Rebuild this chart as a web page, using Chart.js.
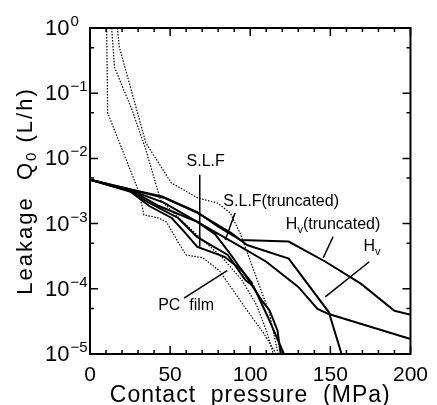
<!DOCTYPE html>
<html>
<head>
<meta charset="utf-8">
<script src="https://cdn.jsdelivr.net/npm/chart.js@4.4.1/dist/chart.umd.min.js"></script>
<style>
  html, body { margin: 0; padding: 0; background: #fff; }
</style>
</head>
<body>
<canvas id="chart" width="437" height="405"></canvas>
<script>
// Contact pressure (MPa) and leakage Q0 (L/h)
const hvTruncP = [0, 26, 45, 67, 80, 94, 124, 147, 169, 190, 200];
const hvTruncQ = [4.7e-3, 3.3e-3, 2.6e-3, 1.5e-3, 9e-4, 5.6e-4, 5.3e-4, 2.6e-4, 1.2e-4, 4.6e-5, 4.0e-5];

const hvP = [0, 26, 46, 67, 92, 110, 130, 142, 149, 200];
const hvQ = [4.7e-3, 3.2e-3, 2.1e-3, 1.06e-3, 4.7e-4, 2.6e-4, 1.07e-4, 4.9e-5, 4.1e-5, 1.7e-5];

const slfTruncP = [0, 26, 46, 67, 88, 98, 124, 149, 157];
const slfTruncQ = [4.7e-3, 3.3e-3, 2.5e-3, 1.46e-3, 7.2e-4, 4.7e-4, 2.9e-4, 4.4e-5, 1e-5];

const slfP = [0, 26, 43, 67, 78, 88, 99, 107, 112, 117, 119];
const slfQ = [4.7e-3, 3.2e-3, 1.86e-3, 1.06e-3, 6.9e-4, 3.3e-4, 1.36e-4, 6.7e-5, 4.7e-5, 2.3e-5, 1e-5];

const slf2P = [0, 26, 37, 55, 67, 86, 97, 102, 107, 111, 121];
const slf2Q = [4.7e-3, 3.05e-3, 2.07e-3, 1.22e-3, 6.2e-4, 3.3e-4, 1.36e-4, 1.1e-4, 6.0e-5, 3.7e-5, 1e-5];

const pcP = [0, 24.5, 37, 51, 59, 67, 84, 95, 101.5];
const pcQ = [4.7e-3, 3.2e-3, 1.86e-3, 1.22e-3, 7.4e-4, 4.4e-4, 3.1e-4, 1.9e-4, 1.19e-4];

// dotted curves
const dot1P = [10.4, 11, 29.4, 32.4, 33.6, 42.8, 47.7, 55, 60, 70.3, 80.7, 87.5, 97.9, 108.3, 116.2];
const dot1Q = [1, 5.0e-2, 3.6e-3, 1.93e-3, 1.36e-3, 1.22e-3, 1.06e-3, 5.2e-4, 3.3e-4, 3.0e-4, 1.9e-4, 1.1e-4, 4.7e-5, 2.1e-5, 1e-5];

const dot2P = [13.5, 15.3, 26.3, 34.9, 44, 58.1, 70.3, 82.6, 94.8, 104, 110, 114.4];
const dot2Q = [1, 0.25, 5.5e-2, 1.35e-2, 2.3e-3, 1.06e-3, 5.6e-4, 3.0e-4, 1.36e-4, 5.6e-5, 2.3e-5, 1e-5];

const dot3P = [17.1, 18.3, 34.9, 50.8, 67.3, 79.5, 87.5, 93.6, 102.8, 111.9, 117.4];
const dot3Q = [1, 0.51, 1.72e-2, 4.2e-3, 2.47e-3, 2.07e-3, 1.46e-3, 7.2e-4, 1.75e-4, 4.3e-5, 1e-5];

// leader lines [from, to] in data units
const leaders = [
  [[68.5, 5.6e-3], [68.5, 4.4e-4]],
  [[90.5, 1.46e-3], [84.4, 5.6e-4]],
  [[151.7, 6.3e-4], [145.6, 3.0e-4]],
  [[174.3, 2.6e-4], [146.8, 7.5e-5]],
  [[58.7, 7.2e-5], [85.6, 1.9e-4]]
];

// label text, sub-script part, tail, anchor (data units)
const notes = [
  ['S.L.F', '', '', 72.2, 8.8e-3],
  ['S.L.F(truncated)', '', '', 119.3, 2.2e-3],
  ['H', 'v', '(truncated)', 151.7, 9.5e-4],
  ['H', 'v', '', 176, 4.4e-4],
  ['PC  film', '', '', 60, 5.6e-5]
];

const xTicks = [0, 50, 100, 150, 200];
const yDecades = [-5, -4, -3, -2, -1, 0];

function pts(p, q) {
  return p.map((v, i) => ({ x: v, y: q[i] }));
}

const solid = (p, q) => ({ data: pts(p, q), borderColor: '#000', borderWidth: 2, pointRadius: 0, fill: false, tension: 0 });
const dotted = (p, q) => ({ data: pts(p, q), borderColor: '#000', borderWidth: 1.2, borderDash: [1.5, 1.5], pointRadius: 0, fill: false, tension: 0 });

const datasets = [
  dotted(dot1P, dot1Q),
  dotted(dot2P, dot2Q),
  dotted(dot3P, dot3Q),
  solid(hvTruncP, hvTruncQ),
  solid(hvP, hvQ),
  solid(slfTruncP, slfTruncQ),
  solid(slfP, slfQ),
  solid(slf2P, slf2Q),
  solid(pcP, pcQ)
];
leaders.forEach(l => {
  datasets.push({ data: l.map(d => ({ x: d[0], y: d[1] })), borderColor: '#000', borderWidth: 1.5, pointRadius: 0, fill: false });
});

const FONT = '"Liberation Sans", Arial, Helvetica, sans-serif';

// frame, inward ticks, y labels, titles and notes
const decor = {
  id: 'decor',
  afterDatasetsDraw(chart) {
    const { ctx, chartArea: a, scales: { x, y } } = chart;
    ctx.save();
    ctx.strokeStyle = '#000';
    ctx.fillStyle = '#000';
    ctx.lineWidth = 2;
    ctx.strokeRect(a.left, a.top, a.right - a.left, a.bottom - a.top);

    ctx.lineWidth = 1.5;
    ctx.beginPath();
    for (let v = 0; v <= 200; v += 10) {
      const px = x.getPixelForValue(v);
      const len = v % 50 === 0 ? 8 : 4;
      ctx.moveTo(px, a.bottom); ctx.lineTo(px, a.bottom - len);
      ctx.moveTo(px, a.top); ctx.lineTo(px, a.top + len);
    }
    yDecades.forEach(d => {
      const py = y.getPixelForValue(Math.pow(10, d));
      ctx.moveTo(a.left, py); ctx.lineTo(a.left + 8, py);
      ctx.moveTo(a.right, py); ctx.lineTo(a.right - 8, py);
      if (d < 0) {
        const pm = y.getPixelForValue(5 * Math.pow(10, d));
        ctx.moveTo(a.left, pm); ctx.lineTo(a.left + 4, pm);
        ctx.moveTo(a.right, pm); ctx.lineTo(a.right - 4, pm);
      }
    });
    ctx.stroke();

    // y tick labels 10^n
    ctx.textAlign = 'left';
    ctx.textBaseline = 'alphabetic';
    yDecades.forEach(d => {
      const py = y.getPixelForValue(Math.pow(10, d));
      ctx.font = '22px ' + FONT;
      ctx.fillText('10', 45, py + 7);
      const w = ctx.measureText('10').width;
      ctx.font = '15px ' + FONT;
      ctx.fillText(d < 0 ? '\u2212' + (-d) : String(d), 45 + w + 1, py - 2);
    });

    // notes
    notes.forEach(n => {
      const px = x.getPixelForValue(n[3]);
      const py = y.getPixelForValue(n[4]);
      ctx.font = '16px ' + FONT;
      const w1 = ctx.measureText(n[0]).width;
      const w3 = ctx.measureText(n[2]).width;
      ctx.font = '11px ' + FONT;
      const w2 = ctx.measureText(n[1]).width;
      let sx = px - (w1 + w2 + w3) / 2;
      ctx.textBaseline = 'middle';
      ctx.font = '16px ' + FONT;
      ctx.fillText(n[0], sx, py);
      sx += w1;
      if (n[1]) {
        ctx.font = '11px ' + FONT;
        ctx.fillText(n[1], sx, py + 5);
        sx += w2;
      }
      ctx.font = '16px ' + FONT;
      if (n[2]) ctx.fillText(n[2], sx, py);
    });

    // x title
    ctx.textBaseline = 'alphabetic';
    ctx.font = '23px ' + FONT;
    ctx.letterSpacing = '1px';
    const xt = 'Contact  pressure  (MPa)';
    const xw = ctx.measureText(xt).width;
    ctx.fillText(xt, (a.left + a.right) / 2 - xw / 2, 402);

    // y title (rotated)
    ctx.save();
    const cy = (a.top + a.bottom) / 2;
    ctx.translate(32, cy);
    ctx.rotate(-Math.PI / 2);
    ctx.letterSpacing = '2px';
    ctx.font = '22px ' + FONT;
    const p1 = 'Leakage  Q';
    const p3 = ' (L/h)';
    const w1 = ctx.measureText(p1).width;
    const w3 = ctx.measureText(p3).width;
    ctx.font = '15px ' + FONT;
    const w2 = ctx.measureText('0').width;
    let sx = -(w1 + w2 + w3) / 2;
    ctx.font = '22px ' + FONT;
    ctx.fillText(p1, sx, 0);
    sx += w1;
    ctx.font = '15px ' + FONT;
    ctx.fillText('0', sx, 4);
    sx += w2;
    ctx.font = '22px ' + FONT;
    ctx.fillText(p3, sx, 0);
    ctx.restore();

    ctx.restore();
  }
};

new Chart(document.getElementById('chart').getContext('2d'), {
  type: 'line',
  data: { datasets: datasets },
  options: {
    responsive: false,
    animation: false,
    layout: { padding: { top: 28, right: 20, left: 0, bottom: 0 } },
    plugins: { legend: { display: false }, tooltip: { enabled: false } },
    scales: {
      x: {
        type: 'linear',
        min: 0,
        max: 200,
        grid: { display: false, drawTicks: false },
        border: { display: false },
        afterBuildTicks: s => { s.ticks = xTicks.map(v => ({ value: v })); },
        afterFit: s => { s.height = 51; },
        ticks: {
          autoSkip: false,
          maxRotation: 0,
          padding: 9,
          color: '#000',
          font: { family: FONT, size: 21 }
        }
      },
      y: {
        type: 'logarithmic',
        min: 1e-5,
        max: 1,
        grid: { display: false, drawTicks: false },
        border: { display: false },
        ticks: { display: false },
        afterFit: s => { s.width = 90; }
      }
    }
  },
  plugins: [decor]
});
</script>
</body>
</html>
